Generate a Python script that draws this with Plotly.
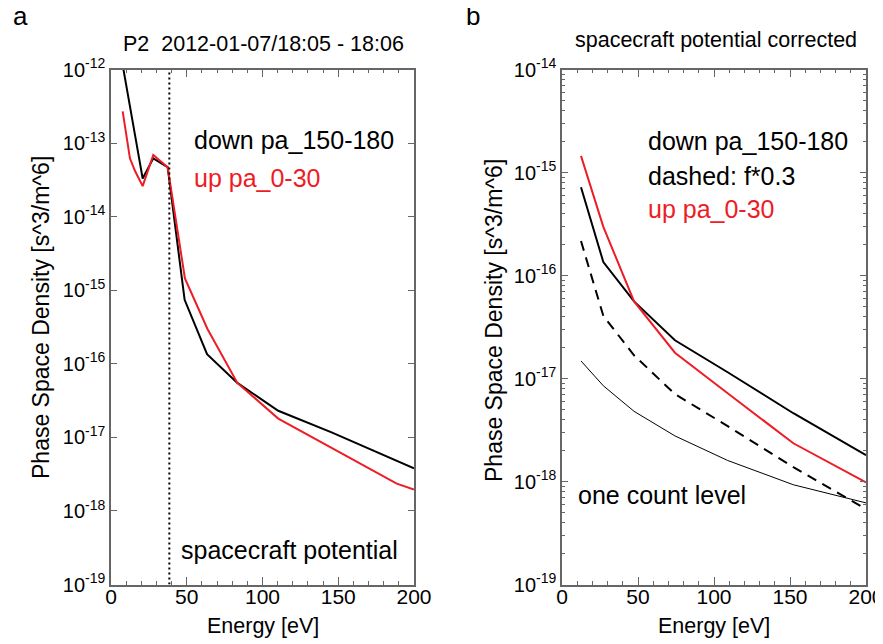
import plotly.graph_objects as go

W, H = 883, 644
OFF = 8  # page body margin: the figure is drawn 8px right / down of the window corner

# ---------------- data ----------------
# panel a: raw energies (eV) and phase space density (s^3/m^6)
energy_a_down = [7.7, 12.5, 15.8, 20.9, 27.9, 37.4, 48.6, 63.4, 83.4, 110.4, 145.6, 200.0]
psd_a_down = [1.15e-12, 3.0e-13, 1.3e-13, 3.3e-14, 6.2e-14, 4.7e-14, 7.4e-16, 1.35e-16,
              5.5e-17, 2.3e-17, 1.17e-17, 3.8e-18]
energy_a_up = [7.7, 12.5, 15.8, 20.9, 27.9, 37.4, 48.8, 63.6, 83.4, 110.4, 145.6, 188.6, 200.0]
psd_a_up = [2.7e-13, 6.2e-14, 4.2e-14, 2.6e-14, 6.9e-14, 4.7e-14, 1.45e-15, 3.0e-16,
            5.5e-17, 1.8e-17, 7.2e-18, 2.35e-18, 1.95e-18]
sc_potential = 38.5  # eV

# panel b: spacecraft-potential-corrected energies
energy_b = [12.5, 27.2, 47.4, 74.3, 109.0, 152.2, 200.0]
psd_b_down = [7.2e-16, 1.35e-16, 5.6e-17, 2.35e-17, 1.15e-17, 4.6e-18, 1.8e-18]
psd_b_up = [1.45e-15, 2.97e-16, 5.6e-17, 1.78e-17, 7.2e-18, 2.35e-18, 9.8e-19]
one_count = [1.48e-17, 8.5e-18, 4.8e-18, 2.77e-18, 1.6e-18, 9.3e-19, 6.2e-19]
dash_factor = 0.3  # "dashed: f*0.3"
psd_b_down_scaled = [v * dash_factor for v in psd_b_down]

x_ticks = [0, 50, 100, 150, 200]
y_ticks_a = [-12, -13, -14, -15, -16, -17, -18, -19]
y_ticks_b = [-14, -15, -16, -17, -18, -19]

RED = "#ee1c25"
AX = "#666666"
FONT = "Liberation Sans, Arial, Helvetica, sans-serif"

fig = go.Figure()

# panel a
fig.add_trace(go.Scatter(x=energy_a_down, y=psd_a_down, mode="lines",
                         line=dict(color="black", width=2), xaxis="x", yaxis="y"))
fig.add_trace(go.Scatter(x=energy_a_up, y=psd_a_up, mode="lines",
                         line=dict(color=RED, width=2), xaxis="x", yaxis="y"))
fig.add_trace(go.Scatter(x=[sc_potential, sc_potential], y=[1e-19, 1e-12], mode="lines",
                         line=dict(color="black", width=2, dash="2px,3px"), xaxis="x", yaxis="y"))

# panel b
fig.add_trace(go.Scatter(x=energy_b, y=psd_b_down, mode="lines",
                         line=dict(color="black", width=2), xaxis="x2", yaxis="y2"))
fig.add_trace(go.Scatter(x=energy_b, y=psd_b_down_scaled, mode="lines",
                         line=dict(color="black", width=2, dash="10px,7px"), xaxis="x2", yaxis="y2"))
fig.add_trace(go.Scatter(x=energy_b, y=psd_b_up, mode="lines",
                         line=dict(color=RED, width=2), xaxis="x2", yaxis="y2"))
fig.add_trace(go.Scatter(x=energy_b, y=one_count, mode="lines",
                         line=dict(color="black", width=1), xaxis="x2", yaxis="y2"))


def px(x):
    return (x - OFF) / W


def py(y):
    return 1 - (y - OFF) / H


def xax(domain, anchor):
    return dict(domain=domain, anchor=anchor, range=[0, 200], automargin=False,
                tickvals=x_ticks, ticktext=[str(t) for t in x_ticks],
                ticks="inside", ticklen=8, tickcolor=AX, tickwidth=1, ticklabelstandoff=-7,
                minor=dict(ticks="inside", ticklen=4, dtick=10, tickcolor=AX, tickwidth=1, showgrid=False),
                showline=True, linecolor=AX, linewidth=1.5, mirror="allticks",
                showgrid=False, zeroline=False, tickfont=dict(size=21, color="black", family=FONT),
                fixedrange=True)


def yax(domain, ticks, anchor, minor):
    d = dict(domain=domain, type="log", range=[ticks[-1], ticks[0]], anchor=anchor, automargin=False,
             tickvals=[10.0 ** t for t in ticks], ticktext=["10<sup>%d</sup>" % t for t in ticks],
             ticks="inside", ticklen=6, tickcolor=AX, tickwidth=1,
             showline=True, linecolor=AX, linewidth=1.5, mirror="allticks",
             showgrid=False, zeroline=False, tickfont=dict(size=20, color="black", family=FONT),
             fixedrange=True)
    if minor:
        d["minor"] = dict(ticks="inside", ticklen=3, dtick="D1", tickcolor=AX, tickwidth=1, showgrid=False)
    return d


ydom = [py(584.5), py(69.5)]
fig.update_layout(
    width=W, height=H, margin=dict(l=0, r=0, t=0, b=0, autoexpand=False),
    paper_bgcolor="white", plot_bgcolor="white", showlegend=False,
    font=dict(family=FONT, color="black"),
    xaxis=xax([px(111), px(414)], "y"),
    yaxis=yax(ydom, y_ticks_a, "x", False),
    xaxis2=xax([px(562), px(866)], "y2"),
    yaxis2=yax(ydom, y_ticks_b, "x2", True),
)


def ann(text, x, y, size, color="black", xanchor="left", angle=0):
    fig.add_annotation(text=text, x=px(x), y=py(y), xref="paper", yref="paper",
                       xanchor=xanchor, yanchor="middle", showarrow=False, textangle=angle,
                       font=dict(size=size, color=color, family=FONT))


ann("a", 11, 16, 26)
ann("b", 464, 16, 26)
ann("P2  2012-01-07/18:05 - 18:06", 263, 44, 21.5, xanchor="center")
ann("spacecraft potential corrected", 716, 40, 21.5, xanchor="center")
ann("down pa_150-180", 192, 140, 25)
ann("up pa_0-30", 192, 178, 25, color=RED)
ann("spacecraft potential", 179, 550, 25)
ann("down pa_150-180", 646, 141, 25)
ann("dashed: f*0.3", 646, 176, 25)
ann("up pa_0-30", 646, 209, 25, color=RED)
ann("one count level", 576, 495, 25)
ann("Energy [eV]", 263, 626, 21.5, xanchor="center")
ann("Energy [eV]", 714, 626, 21.5, xanchor="center")
ann("Phase Space Density [s^3/m^6]", 41, 318, 23, xanchor="center", angle=-90)
ann("Phase Space Density [s^3/m^6]", 494, 320, 23, xanchor="center", angle=-90)

fig.write_html("out.html")
